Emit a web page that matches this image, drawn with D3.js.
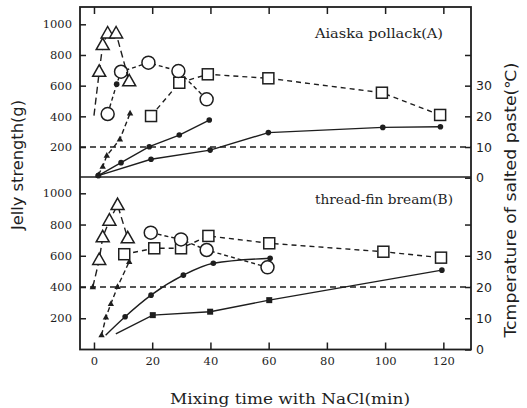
<!DOCTYPE html>
<html><head><meta charset="utf-8">
<script src="https://cdn.jsdelivr.net/npm/d3@7"></script>
<style>body{margin:0;background:#fff}</style>
</head><body>
<svg id="c" width="527" height="408"></svg>
<script>
// ---------- DATA ----------
const xTicks = [0, 20, 40, 60, 80, 100, 120];
const gTicks = [200, 400, 600, 800, 1000];
const tempTicks = [0, 10, 20, 30, 40];
const tempTickLabels = ["0", "10", "20", "30", ""];

// Panel A: Alaska pollack  (open = jelly strength g, filled = temperature °C)
const refTempA = 10;
const triOpenA_t = [0, 1.8, 3.0, 4.7, 7.6, 12.1];
const triOpenA_g = [405, 690, 865, 940, 940, 628];
const triOpenA_m = ["none", "tri", "tri", "tri", "tri", "tri"];
const circOpenA_t = [4.7, 7.8, 9.3, 18.7, 29.0, 38.7];
const circOpenA_g = [415, 610, 691, 750, 695, 511];
const circOpenA_m = ["circ", "dot", "circ", "circ", "circ", "circ"];
const sqOpenA_t = [19.6, 29.3, 39.1, 59.9, 98.9, 118.9];
const sqOpenA_g = [402, 619, 674, 648, 554, 409];
const triFillA_t = [1.5, 3.0, 4.4, 8.9, 12.4];
const triFillA_c = [0.9, 3.6, 7.2, 12.5, 21.0];
const dotFillA1_t = [1.5, 9.3, 19.0, 29.3, 39.6];
const dotFillA1_c = [0.7, 4.9, 10.1, 13.9, 18.8];
const dotFillA2_t = [1.5, 19.6, 39.9, 59.9, 99.2, 119.0];
const dotFillA2_c = [0.7, 6.0, 9.0, 14.7, 16.4, 16.6];

// Panel B: thread-fin bream
const refTempB = 20;
const triOpenB_t = [-0.4, 1.8, 3.0, 5.3, 8.1, 11.6];
const triOpenB_g = [400, 573, 718, 825, 925, 712];
const triOpenB_m = ["ftri", "tri", "tri", "tri", "tri", "tri"];
const triFillB_t = [2.6, 4.1, 5.8, 8.1, 12.1];
const triFillB_c = [4.6, 10.3, 14.6, 20.1, 28.1];
const sqOpenB_t = [10.4, 20.7, 29.9, 39.3, 60.2, 99.4, 119.2];
const sqOpenB_g = [610, 648, 648, 727, 680, 626, 588];
const circOpenB_t = [19.5, 29.9, 38.7, 59.6];
const circOpenB_g = [748, 705, 637, 526];
const dotFillB_t = [4.0, 10.7, 19.6, 30.7, 41.0, 60.5];
const dotFillB_c = [4.6, 10.5, 17.4, 23.8, 27.6, 29.2];
const dotFillB_m = ["none", "dot", "dot", "dot", "dot", "dot"];
const sqFillB_t = [7.5, 20.2, 39.9, 60.2, 119.5];
const sqFillB_c = [5.0, 11.0, 12.1, 15.8, 25.4];
const sqFillB_m = ["none", "fsq", "fsq", "fsq", "dot"];

// ---------- LAYOUT ----------
const svg = d3.select("#c");
const INK = "#1e1e1e";
const L = 80, R = 471, T = 7, MID = 177, B = 349.5;
const x = d3.scaleLinear().domain([-4.8, 129.5]).range([L, R]);
const yA = d3.scaleLinear().domain([0, 1000]).range([177.7, 24.3]);
const cA = d3.scaleLinear().domain([0, 50]).range([177.7, 24.3]);
const yB = d3.scaleLinear().domain([0, 1000]).range([349.5, 193.3]);
const cB = d3.scaleLinear().domain([0, 50]).range([349.5, 193.3]);

// frame
svg.append("rect").attr("x", L).attr("y", T).attr("width", R - L).attr("height", B - T)
  .attr("fill", "none").attr("stroke", INK).attr("stroke-width", 1.8);
svg.append("line").attr("x1", L).attr("x2", R).attr("y1", MID).attr("y2", MID)
  .attr("stroke", INK).attr("stroke-width", 1.6);

function styleAxis(g, font, size) {
  g.select(".domain").remove();
  g.selectAll("line").attr("stroke", INK).attr("stroke-width", 1.5);
  g.selectAll("text").attr("font-family", font).attr("font-size", size).attr("fill", INK);
}

// x axes
svg.append("g").attr("transform", `translate(0,${B})`)
  .call(d3.axisBottom(x).tickValues(xTicks).tickSize(-7).tickPadding(7).tickFormat(d3.format("d")))
  .call(g => styleAxis(g, "DejaVu Serif", 11.5));
svg.append("g").attr("transform", `translate(0,${T})`)
  .call(d3.axisTop(x).tickValues(xTicks).tickSize(-7).tickFormat(""))
  .call(g => styleAxis(g, "DejaVu Serif", 11.5));

// left axes
[yA, yB].forEach(ys => {
  svg.append("g").attr("transform", `translate(${L},0)`)
    .call(d3.axisLeft(ys).tickValues(gTicks).tickSize(-6).tickPadding(8).tickFormat(d3.format("d")))
    .call(g => styleAxis(g, "DejaVu Serif", 11.5));
});
// right axes
[cA, cB].forEach(cs => {
  svg.append("g").attr("transform", `translate(${R},0)`)
    .call(d3.axisRight(cs).tickValues(tempTicks).tickSize(-6).tickPadding(5)
      .tickFormat((d, i) => tempTickLabels[i]))
    .call(g => styleAxis(g, "DejaVu Sans", 12.5));
});

// reference lines
[[cA, refTempA], [cB, refTempB]].forEach(([cs, v]) => {
  svg.append("line").attr("x1", L).attr("x2", R).attr("y1", cs(v)).attr("y2", cs(v))
    .attr("stroke", INK).attr("stroke-width", 1.4).attr("stroke-dasharray", "6,4");
});

// series drawing
function series(ts, vs, ys, marks, dash, curve) {
  const pts = ts.map((t, i) => [x(t), ys(vs[i]), marks[i]]);
  const line = d3.line().x(d => d[0]).y(d => d[1]).curve(curve || d3.curveLinear);
  svg.append("path").attr("d", line(pts)).attr("fill", "none").attr("stroke", INK)
    .attr("stroke-width", 1.4).attr("stroke-dasharray", dash || null);
  pts.forEach(([px, py, m]) => {
    if (m === "tri") {
      svg.append("path").attr("d", `M${px},${py - 7}L${px + 6.5},${py + 4.5}L${px - 6.5},${py + 4.5}Z`)
        .attr("fill", "#fff").attr("stroke", INK).attr("stroke-width", 1.5);
    } else if (m === "ftri") {
      svg.append("path").attr("d", `M${px},${py - 3.5}L${px + 3.2},${py + 2.2}L${px - 3.2},${py + 2.2}Z`)
        .attr("fill", INK);
    } else if (m === "circ") {
      svg.append("circle").attr("cx", px).attr("cy", py).attr("r", 6.5)
        .attr("fill", "#fff").attr("stroke", INK).attr("stroke-width", 1.5);
    } else if (m === "sq") {
      svg.append("rect").attr("x", px - 5.5).attr("y", py - 5.5).attr("width", 11).attr("height", 11)
        .attr("fill", "#fff").attr("stroke", INK).attr("stroke-width", 1.5);
    } else if (m === "dot") {
      svg.append("circle").attr("cx", px).attr("cy", py).attr("r", 2.8).attr("fill", INK);
    } else if (m === "fsq") {
      svg.append("rect").attr("x", px - 3).attr("y", py - 3).attr("width", 6).attr("height", 6).attr("fill", INK);
    }
  });
}
const rep = (n, m) => Array(n).fill(m);

// Panel A
series(dotFillA2_t, dotFillA2_c, cA, rep(6, "dot"), null);
series(dotFillA1_t, dotFillA1_c, cA, rep(5, "dot"), null);
series(triFillA_t, triFillA_c, cA, rep(5, "ftri"), "5,3");
series(sqOpenA_t, sqOpenA_g, yA, rep(6, "sq"), "5,4");
series(circOpenA_t, circOpenA_g, yA, circOpenA_m, "4,3");
series(triOpenA_t, triOpenA_g, yA, triOpenA_m, "7,4");

// Panel B
series(sqFillB_t, sqFillB_c, cB, sqFillB_m, null);
series(dotFillB_t, dotFillB_c, cB, dotFillB_m, null, d3.curveMonotoneX);
series(triFillB_t, triFillB_c, cB, rep(5, "ftri"), "5,3");
series(sqOpenB_t, sqOpenB_g, yB, rep(7, "sq"), "5,4");
series(circOpenB_t, circOpenB_g, yB, rep(4, "circ"), "4,3");
series(triOpenB_t, triOpenB_g, yB, triOpenB_m, "7,4");

// texts
svg.append("text").attr("x", 315).attr("y", 38).attr("font-family", "DejaVu Serif")
  .attr("font-size", 12).attr("fill", INK).attr("textLength", 128).attr("lengthAdjust", "spacingAndGlyphs")
  .text("Aiaska pollack(A)");
svg.append("text").attr("x", 315).attr("y", 204).attr("font-family", "DejaVu Serif")
  .attr("font-size", 12).attr("fill", INK).attr("textLength", 138).attr("lengthAdjust", "spacingAndGlyphs")
  .text("thread-fin bream(B)");
svg.append("text").attr("x", 290).attr("y", 404).attr("text-anchor", "middle")
  .attr("font-family", "DejaVu Serif").attr("font-size", 15.5).attr("fill", INK)
  .attr("textLength", 240).attr("lengthAdjust", "spacingAndGlyphs")
  .text("Mixing time with NaCl(min)");
svg.append("text").attr("transform", "translate(23,165) rotate(-90)").attr("text-anchor", "middle")
  .attr("font-family", "DejaVu Sans").attr("font-size", 15).attr("fill", INK)
  .attr("textLength", 130).attr("lengthAdjust", "spacingAndGlyphs")
  .text("Jelly strength(g)");
svg.append("text").attr("transform", "translate(516,200) rotate(-90)").attr("text-anchor", "middle")
  .attr("font-family", "DejaVu Sans").attr("font-size", 15).attr("fill", INK)
  .attr("textLength", 275).attr("lengthAdjust", "spacingAndGlyphs")
  .text("Tcmperature of salted paste(℃)");
</script>
</body></html>
